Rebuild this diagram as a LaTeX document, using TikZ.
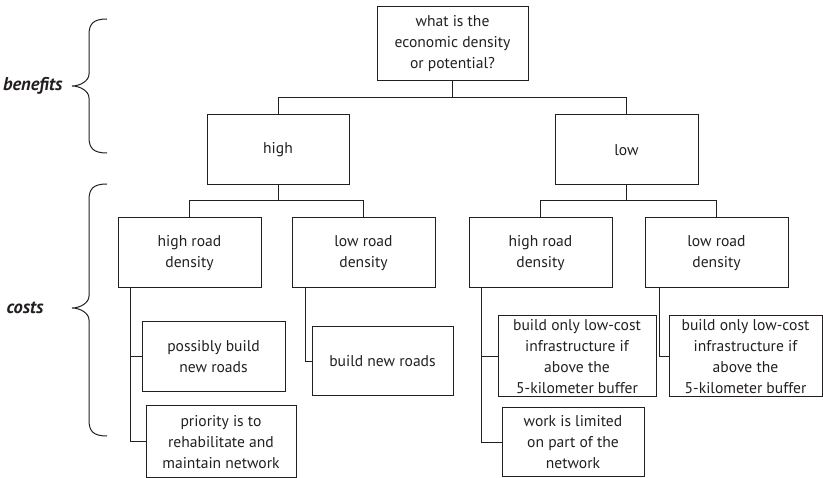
\documentclass[tikz,border=0pt]{standalone}
\usepackage{fontspec}
\setmainfont{PT Sans}
\usetikzlibrary{calc}
\definecolor{ink}{HTML}{231F20}
\tikzset{
  box/.style={draw=ink, line width=1pt, inner sep=0pt, align=center, text=ink,
    font=\fontsize{15.6}{21}\selectfont},
  link/.style={draw=ink, line width=1pt},
  brace/.style={draw=ink, line width=1pt},
  side/.style={text=ink, font=\fontsize{18.5}{20}\selectfont\bfseries\itshape, anchor=east}
}
\begin{document}
\begin{tikzpicture}[x=1pt,y=-1pt]
\useasboundingbox (0,0) rectangle (823,478);
\clip (0,0) rectangle (823,478);
% level 0
\node[box, minimum width=151pt, minimum height=74pt] (top) at (452.5,44) {what is the\\economic density\\or potential?};
% level 1
\node[box, minimum width=142pt, minimum height=70pt] (high) at (278,150) {high};
\node[box, minimum width=143pt, minimum height=70pt] (low) at (626.5,150) {low};
% level 2
\node[box, minimum width=143pt, minimum height=70pt] (hrdA) at (189.5,253) {high road\\density};
\node[box, minimum width=143pt, minimum height=70pt] (lrdA) at (363.5,253) {low road\\density};
\node[box, minimum width=143pt, minimum height=70pt] (hrdB) at (540.5,253) {high road\\density};
\node[box, minimum width=143pt, minimum height=70pt] (lrdB) at (716.5,253) {low road\\density};
% level 3
\node[box, minimum width=143pt, minimum height=70pt] (pb) at (213.5,357) {possibly build\\new roads};
\node[box, minimum width=150pt, minimum height=72pt] (pr) at (221,442) {priority is to\\rehabilitate and\\maintain network};
\node[box, minimum width=141pt, minimum height=69pt] (bnr) at (382.5,361.5) {build new roads};
\node[box, minimum width=158pt, minimum height=81pt] (boA) at (577,356.5) {build only low-cost\\infrastructure if\\above the\\5-kilometer buffer};
\node[box, minimum width=142pt, minimum height=69pt] (wl) at (573,442.5) {work is limited\\on part of the\\network};
\node[box, minimum width=153pt, minimum height=81pt] (boB) at (745.5,356.5) {build only low-cost\\infrastructure if\\above the\\5-kilometer buffer};
% tree connectors
\coordinate (j0) at ($(top.south)+(0,16)$);
\draw[link] (top.south) -- (j0);
\draw[link] (j0) -| (high.north);
\draw[link] (j0) -| (low.north);
\coordinate (j1) at ($(high.south)+(0,15)$);
\draw[link] (high.south) -- (j1);
\draw[link] (j1) -| (hrdA.north);
\draw[link] (j1) -| (lrdA.north);
\coordinate (j2) at ($(low.south)+(0,15)$);
\draw[link] (low.south) -- (j2);
\draw[link] (j2) -| (hrdB.north);
\draw[link] (j2) -| (lrdB.north);
% child connectors
\draw[link] ($(hrdA.south west)+(13,0)$) |- (pb.west);
\draw[link] ($(hrdA.south west)+(13,0)$) |- (pr.west);
\draw[link] ($(lrdA.south west)+(14,0)$) |- (bnr.west);
\draw[link] ($(hrdB.south west)+(13,0)$) |- (boA.west);
\draw[link] ($(hrdB.south west)+(13,0)$) |- (wl.west);
\draw[link] ($(lrdB.south west)+(15,0)$) |- (boB.west);
% braces
\draw[brace] (107,19) .. controls (93,19) and (89,24) .. (89,35) -- (89,74)
  .. controls (89,81) and (80,86) .. (72,86)
  .. controls (80,86) and (89,91) .. (89,98) -- (89,137)
  .. controls (89,148) and (93,153) .. (107,153);
\draw[brace] (107,184) .. controls (93,184) and (89,189) .. (89,200) -- (89,296)
  .. controls (89,303) and (80,308) .. (72,308)
  .. controls (80,308) and (89,313) .. (89,320) -- (89,420)
  .. controls (89,431) and (93,436) .. (107,436);
\node[side] (benefits) at (66,86) {benefits};
\node[side] (costs) at (47,308) {costs};
\end{tikzpicture}
\end{document}
